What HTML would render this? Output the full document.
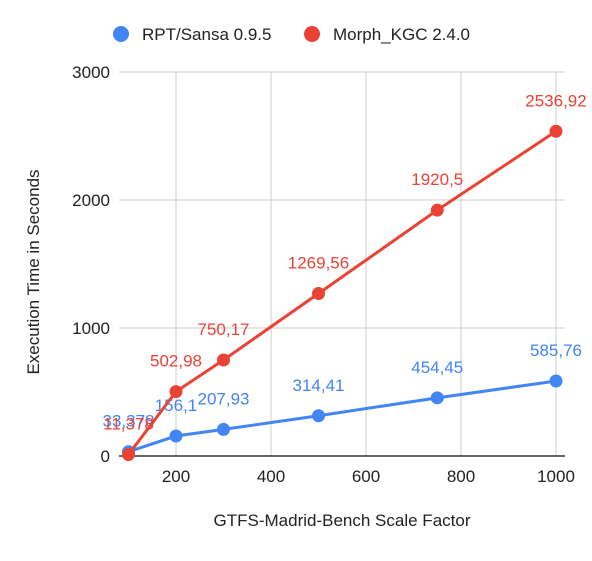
<!DOCTYPE html>
<html><head><meta charset="utf-8"><style>
body{margin:0;background:#fff;font-family:"Liberation Sans",Arial,sans-serif}
</style></head><body>
<svg id="c" width="592" height="556" xmlns="http://www.w3.org/2000/svg"></svg>
<script>
const categories=[100,200,300,500,750,1000];
const rptValues=[33.378,156.1,207.93,314.41,454.45,585.76];
const rptLabels=["33,378","156,1","207,93","314,41","454,45","585,76"];
const morphValues=[11.378,502.98,750.17,1269.56,1920.5,2536.92];
const morphLabels=["11,378","502,98","750,17","1269,56","1920,5","2536,92"];
const xTicks=[200,400,600,800,1000];
const yTicks=[0,1000,2000,3000];
const NS="http://www.w3.org/2000/svg";
const svg=document.getElementById('c');
const X=v=>81+(v)*0.475;
const Y=v=>456-v*0.128;
function el(t,a,txt){const e=document.createElementNS(NS,t);for(const k in a)e.setAttribute(k,a[k]);if(txt!=null)e.textContent=txt;svg.appendChild(e);return e;}
xTicks.forEach(t=>{
 const g=el('line',{x1:X(t),x2:X(t),y1:72,y2:456,stroke:'#ccc','stroke-width':1});
 
 
 const l=el('text',{x:X(t),y:482,'text-anchor':'middle','font-size':17,fill:'#222'},t);
 
 
});
yTicks.forEach(t=>{
 if(t>0){const g=el('line',{x1:119,x2:565,y1:Y(t),y2:Y(t),stroke:'#ccc','stroke-width':1});
 
 }
 const l=el('text',{x:110,y:Y(t)+6,'text-anchor':'end','font-size':17,fill:'#222'},t);
 
 
});
const ax=el('line',{x1:119,x2:565,y1:456,y2:456,stroke:'#333','stroke-width':1.5});


function series(vals,labels,color,name){
 const p=el('polyline',{points:categories.map((c,i)=>X(c)+','+Y(vals[i])).join(' '),fill:'none',stroke:color,'stroke-width':3});
 
 
 categories.forEach((c,i)=>{
  const d=el('circle',{cx:X(c),cy:Y(vals[i]),r:6.5,fill:color});
  
  
  const t=el('text',{x:X(c),y:Y(vals[i])-25,'text-anchor':'middle','font-size':17,fill:color},labels[i]);
  
  
 });
}
series(rptValues,rptLabels,'#4285f4','rpt-sansa');
series(morphValues,morphLabels,'#ea4335','morph-kgc');
const l1=el('circle',{cx:121,cy:34,r:8,fill:'#4285f4'});


const t1=el('text',{x:142,y:40,'font-size':17,fill:'#222'},'RPT/Sansa 0.9.5');


const l2=el('circle',{cx:312,cy:34,r:8,fill:'#ea4335'});


const t2=el('text',{x:333,y:40,'font-size':17,fill:'#222'},'Morph_KGC 2.4.0');


const xt=el('text',{x:342,y:526,'text-anchor':'middle','font-size':17,fill:'#222'},'GTFS-Madrid-Bench Scale Factor');


const yt=el('text',{x:0,y:0,'text-anchor':'middle','font-size':17,fill:'#222',transform:'translate(39,272) rotate(-90)'},'Execution Time in Seconds');


</script>
</body></html>
